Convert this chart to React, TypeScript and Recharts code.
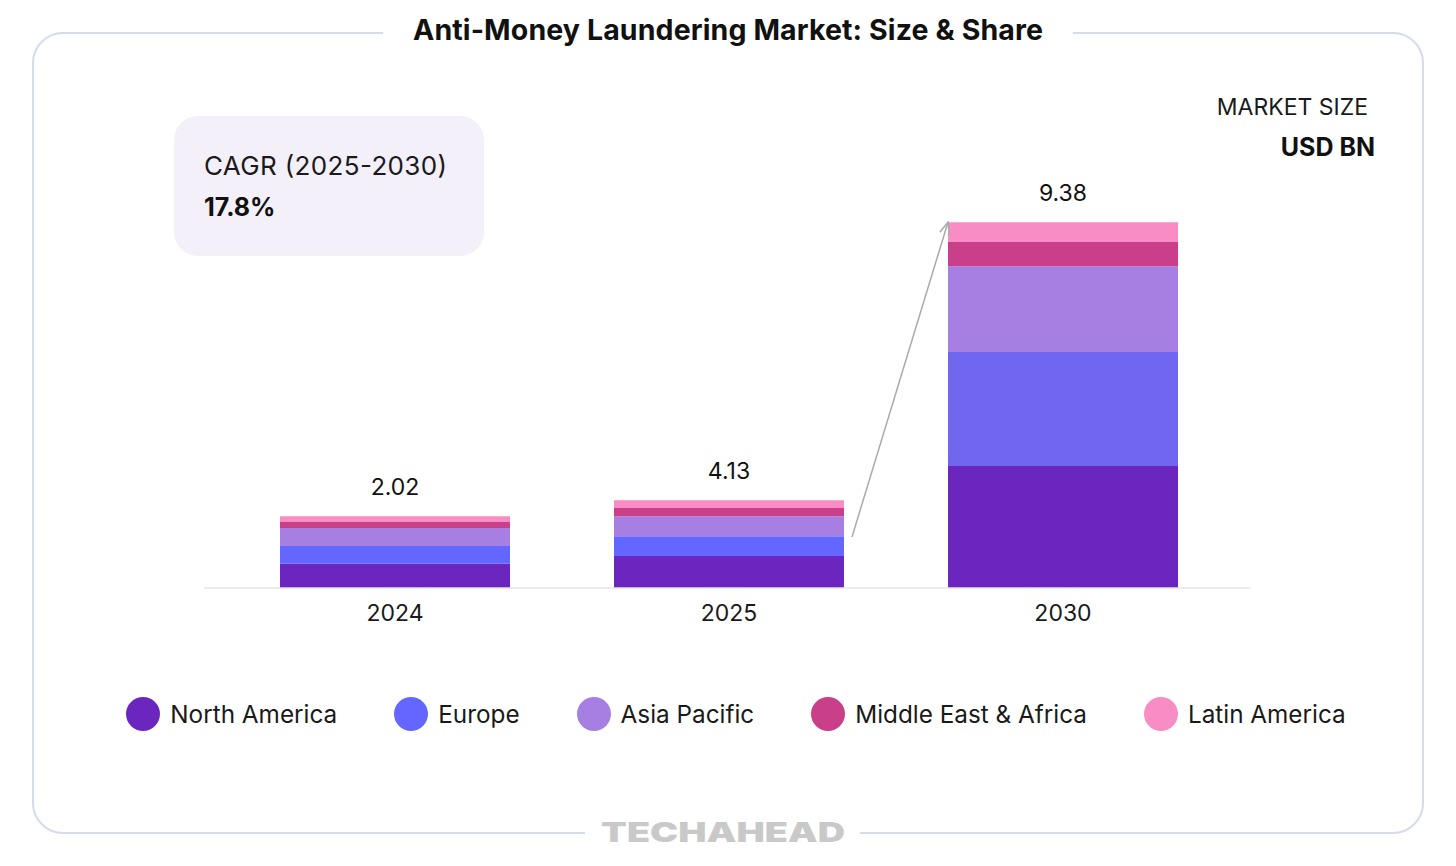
import React from "react";
import { BarChart, Bar, XAxis, YAxis, LabelList, ReferenceLine, Cell } from "recharts";

const years = ["2024", "2025", "2030"];
const northAmerica = [0.62, 0.82, 3.13];
const europe = [0.46, 0.51, 2.92];
const asiaPacific = [0.46, 0.51, 2.2];
const middleEastAfrica = [0.15, 0.21, 0.62];
const latinAmerica = [0.15, 0.2, 0.51];
const totalLabels = ["2.02", "4.13", "9.38"];
const arrowFrom = { year: "2025", value: 1.31 };
const arrowTo = { year: "2030", value: 9.38 };

const seriesNames = ["North America", "Europe", "Asia Pacific", "Middle East & Africa", "Latin America"];
const seriesKeys = ["na", "eu", "ap", "mea", "la"];
const seriesColors = ["#6C26C0", "#6366FF", "#A77FE2", "#C93F8A", "#F78DC4"];
const europeBarColors = ["#6366FF", "#6366FF", "#7066F0"];

const title = "Anti-Money Laundering Market: Size & Share";
const cagrLabel = "CAGR (2025-2030)";
const cagrValue = "17.8%";
const unitTop = "MARKET SIZE";
const unitBottom = "USD BN";
const brand = "TECHAHEAD";

const data = years.map((y, i) => ({
  year: y,
  na: northAmerica[i],
  eu: europe[i],
  ap: asiaPacific[i],
  mea: middleEastAfrica[i],
  la: latinAmerica[i],
}));

const FONT = "Inter, 'Noto Sans', sans-serif";

const TotalLabel = (props: any) => {
  const { x, y, width, index } = props;
  return (
    <text
      x={x + width / 2}
      y={y - 21}
      textAnchor="middle"
      fontSize={23}
      fontFamily={FONT}
      fill="#111"
    >
      {totalLabels[index]}
    </text>
  );
};

const ArrowShape = (props: any) => {
  const { x1, y1, x2, y2 } = props;
  const sx = x1 + 123;
  const ex = x2 - 115;
  const dx = ex - sx;
  const dy = y2 - y1;
  const len = Math.sqrt(dx * dx + dy * dy);
  const ux = dx / len;
  const uy = dy / len;
  const hl = 12;
  const hw = 5;
  const bx = ex - ux * hl;
  const by = y2 - uy * hl;
  const px = -uy;
  const py = ux;
  return (
    <g>
      <line x1={sx} y1={y1} x2={ex} y2={y2} stroke="#AAAAAA" strokeWidth={1.5} />
      <polyline
        points={`${bx + px * hw},${by + py * hw} ${ex},${y2} ${bx - px * hw},${by - py * hw}`}
        fill="none"
        stroke="#AAAAAA"
        strokeWidth={1.5}
      />
    </g>
  );
};

export default function App() {
  return (
    <div style={{ position: "absolute", left: 0, top: 0, width: 1456, height: 866, background: "#fff", fontFamily: FONT }}>
      <svg width={1456} height={866} style={{ position: "absolute", left: 0, top: 0 }}>
        <rect x={33} y={33} width={1390} height={800} rx={30} ry={30} fill="none" stroke="#D3DCEC" strokeWidth={2} />
        <rect x={383} y={20} width={690} height={26} fill="#fff" />
        <rect x={585} y={820} width={275} height={26} fill="#fff" />
        <text x={728} y={40} textAnchor="middle" fontSize={28.5} fontWeight={700} fill="#111" fontFamily={FONT} textLength={630} lengthAdjust="spacing">
          {title}
        </text>
        <text x={723} y={842} textAnchor="middle" fontSize={27} fontWeight={900} fill="#C9C9C9" fontFamily={FONT} textLength={244} lengthAdjust="spacingAndGlyphs">
          {brand}
        </text>
        <rect x={174} y={116} width={310} height={140} rx={24} ry={24} fill="#F3F0FA" />
        <text x={204} y={175} fontSize={26} fill="#1a1a1a" fontFamily={FONT} textLength={243} lengthAdjust="spacing">
          {cagrLabel}
        </text>
        <text x={204} y={216} fontSize={25} fontWeight={700} fill="#111" fontFamily={FONT}>
          {cagrValue}
        </text>
        <text x={1368} y={115} textAnchor="end" fontSize={23} fill="#1a1a1a" fontFamily={FONT}>
          {unitTop}
        </text>
        <text x={1375} y={156} textAnchor="end" fontSize={25} fontWeight={700} fill="#111" fontFamily={FONT}>
          {unitBottom}
        </text>
      </svg>
      <div style={{ position: "absolute", left: 0, top: 0 }}>
        <BarChart
          width={1456}
          height={866}
          data={data}
          margin={{ top: 198, right: 206, left: 204, bottom: 238 }}
          barCategoryGap={0}
        >
          <XAxis
            dataKey="year"
            height={40}
            tickLine={false}
            axisLine={{ stroke: "#E6E6E6", strokeWidth: 1.5 }}
            tick={{ fill: "#1a1a1a", fontSize: 23, fontFamily: FONT }}
            tickMargin={11}
            padding={{ left: 24, right: 20 }}
          />
          <YAxis hide domain={[0, 10]} />
          {seriesKeys.map((k, i) => (
            <Bar key={k} dataKey={k} stackId="a" fill={seriesColors[i]} barSize={230} isAnimationActive={false}>
              {k === "eu" ? data.map((d, j) => <Cell key={d.year} fill={europeBarColors[j]} />) : null}
              {i === seriesKeys.length - 1 ? (
                <LabelList dataKey={k} content={<TotalLabel />} />
              ) : null}
            </Bar>
          ))}
          <ReferenceLine
            segment={[
              { x: arrowFrom.year, y: arrowFrom.value },
              { x: arrowTo.year, y: arrowTo.value },
            ]}
            ifOverflow="visible"
            shape={(p: any) => <ArrowShape {...p} />}
          />
        </BarChart>
      </div>
      <div
        style={{
          position: "absolute",
          left: 8,
          top: 697,
          width: 1456,
          display: "flex",
          justifyContent: "center",
          alignItems: "center",
          gap: 57,
          fontFamily: FONT,
          fontSize: 24.3,
          color: "#1a1a1a",
        }}
      >
        {seriesNames.map((n, i) => (
          <div key={n} style={{ display: "flex", alignItems: "center", height: 34 }}>
            <span
              style={{
                display: "inline-block",
                width: 34,
                height: 34,
                borderRadius: 17,
                background: seriesColors[i],
                marginRight: 10,
              }}
            />
            <span>{n}</span>
          </div>
        ))}
      </div>
    </div>
  );
}
